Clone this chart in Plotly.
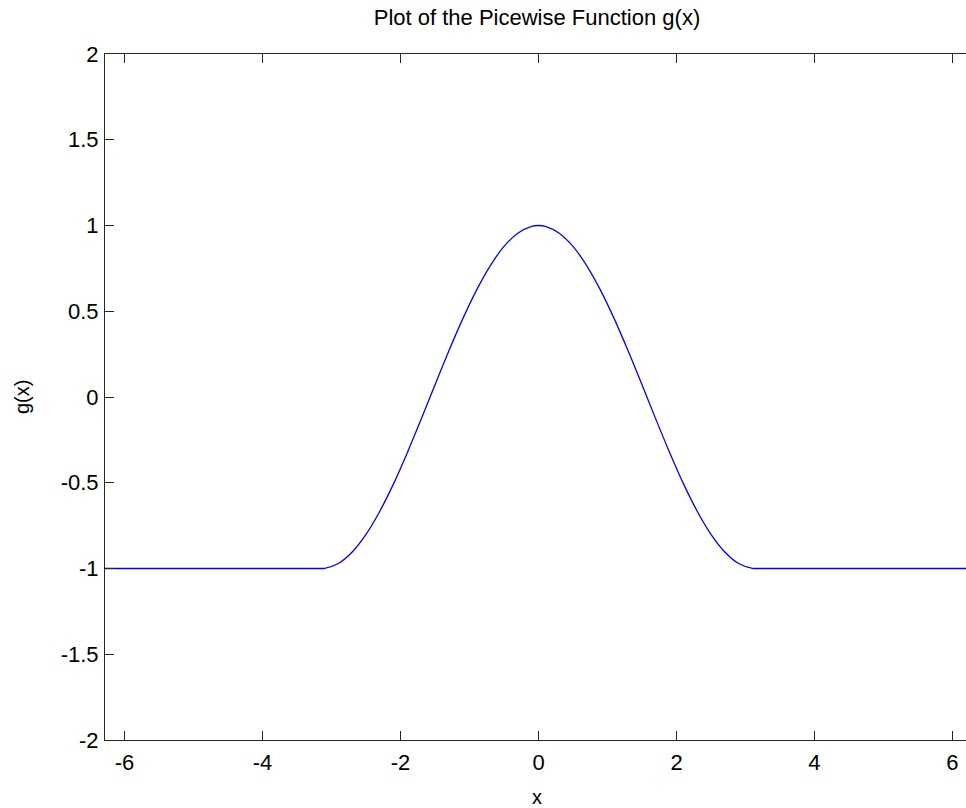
import plotly.graph_objects as go

# Values (g(x): flat at -1 outside |x|>pi, bell-shaped in between)
x_vals = [-6.2832, -3.1416, -3.1, -2.9, -2.7, -2.5, -2.3, -2.1, -1.9, -1.7, -1.5, -1.3,
          -1.1, -0.9, -0.7, -0.5, -0.3, -0.1, 0.0, 0.1, 0.3, 0.5, 0.7, 0.9, 1.1, 1.3,
          1.5, 1.7, 1.9, 2.1, 2.3, 2.5, 2.7, 2.9, 3.1, 3.1416, 6.2832]
g_vals = [-1.0, -1.0, -0.999, -0.971, -0.904, -0.801, -0.666, -0.505, -0.323, -0.129,
          0.071, 0.268, 0.454, 0.622, 0.765, 0.878, 0.955, 0.995, 1.0, 0.995, 0.955,
          0.878, 0.765, 0.622, 0.454, 0.268, 0.071, -0.129, -0.323, -0.505, -0.666,
          -0.801, -0.904, -0.971, -0.999, -1.0, -1.0]

x_ticks = [-6, -4, -2, 0, 2, 4, 6]
y_ticks = [-2, -1.5, -1, -0.5, 0, 0.5, 1, 1.5, 2]
y_tick_text = ["-2", "-1.5", "-1", "-0.5", "0", "0.5", "1", "1.5", "2"]

title_text = "Plot of the Picewise Function g(x)"
x_label = "x"
y_label = "g(x)"

font_family = "Liberation Sans, Arial, sans-serif"

fig = go.Figure()
fig.add_trace(go.Scatter(x=x_vals, y=g_vals, mode="lines",
                         line=dict(color="#0000ff", width=1.3, shape="spline", smoothing=1),
                         showlegend=False))

axis_common = dict(
    showgrid=False, zeroline=False, showline=True, linecolor="#262626", linewidth=1,
    ticks="inside", ticklen=9, tickwidth=1, tickcolor="#262626",
    tickfont=dict(family=font_family, size=22, color="#000000"),
)

fig.update_layout(
    width=966, height=808,
    margin=dict(l=105, r=0, t=54, b=68),
    paper_bgcolor="white", plot_bgcolor="white",
    xaxis=dict(range=[-6.2832, 6.196], tickvals=x_ticks, ticktext=[str(v) for v in x_ticks],
               ticklabelstandoff=3, mirror="ticks", **axis_common),
    yaxis=dict(range=[-2, 2], tickvals=y_ticks, ticktext=y_tick_text,
               ticklabelstandoff=1, mirror=False, **axis_common),
    title=dict(text=title_text, x=537 / 966, y=1 - 17 / 808, xref="container", yref="container",
               xanchor="center", yanchor="middle",
               font=dict(family=font_family, size=22, color="#000")),
)
fig.add_annotation(text=x_label, xref="paper", yref="paper",
                   x=(537 - 105) / (966 - 105), y=-(797 - 740) / (740 - 54),
                   showarrow=False, xanchor="center", yanchor="middle",
                   font=dict(family=font_family, size=20, color="#000"))
fig.add_annotation(text=y_label, xref="paper", yref="paper",
                   x=-(105 - 22) / (966 - 105), y=(740 - 397) / (740 - 54),
                   showarrow=False, xanchor="center", yanchor="middle", textangle=-90,
                   font=dict(family=font_family, size=20, color="#000"))

fig.write_html("out.html")
